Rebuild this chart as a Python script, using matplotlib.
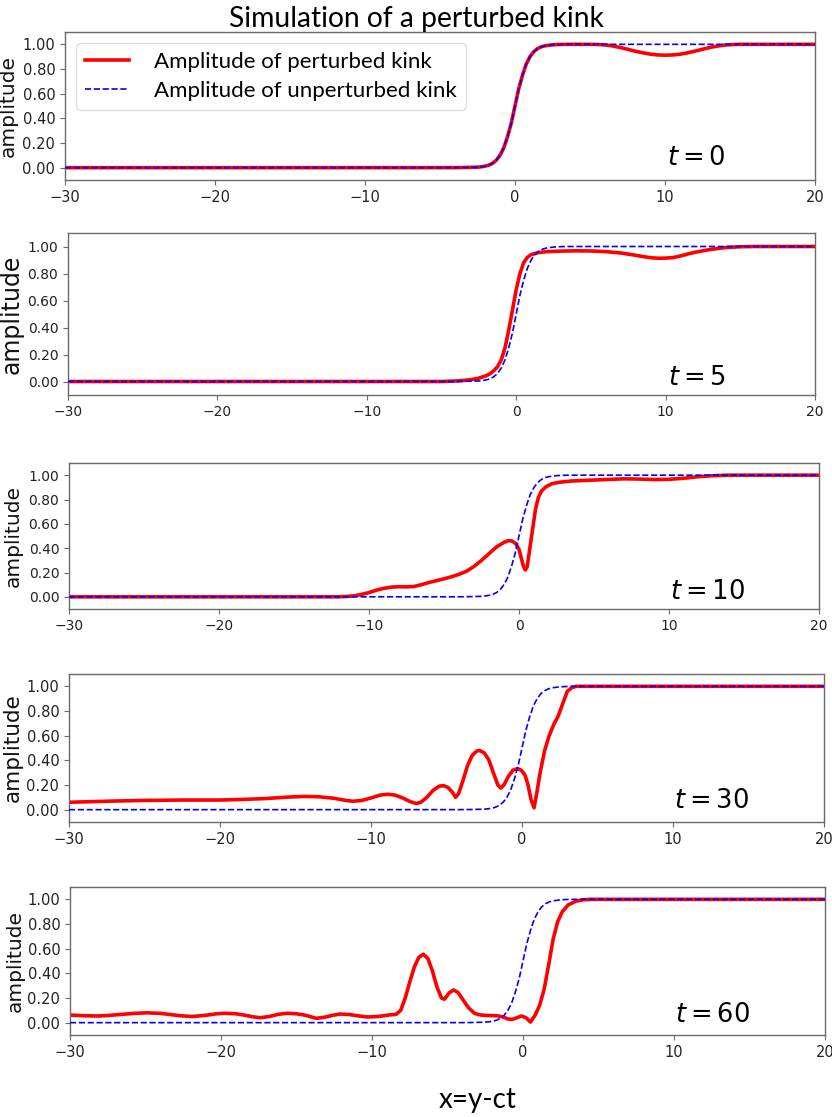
import matplotlib
matplotlib.use("Agg")
import matplotlib.pyplot as plt
from matplotlib.ticker import FormatStrFormatter

# ---------------- data ----------------
times = [0, 5, 10, 30, 60]

# unperturbed kink (same in every panel)
x_unpert = [-30, -4, -3.5, -3, -2.5, -2.25, -2, -1.75, -1.5, -1.25, -1, -0.75, -0.5, -0.25, 0, 0.25, 0.5, 0.75,
            1, 1.25, 1.5, 1.75, 2, 2.5, 3, 3.5, 4, 20]
y_unpert = [0.0, 0.0003, 0.001, 0.0025, 0.004, 0.007, 0.012, 0.02, 0.035, 0.06, 0.10, 0.16, 0.25, 0.36, 0.50,
            0.64, 0.75, 0.84, 0.90, 0.94, 0.965, 0.98, 0.988, 0.996, 0.999, 1.0, 1.0, 1.0]

# perturbed kink, t = 0
x_t0 = [-30, -4, -3.5, -3, -2.5, -2.25, -2, -1.75, -1.5, -1.25, -1, -0.75, -0.5, -0.25, 0, 0.25, 0.5, 0.75,
        1, 1.25, 1.5, 1.75, 2, 2.5, 3, 3.5, 4, 5, 5.5, 6, 6.5, 7, 7.5, 8, 8.5, 9, 9.5, 10, 10.5, 11, 11.5, 12,
        12.5, 13, 13.5, 14, 14.5, 15, 20]
y_t0 = [0.0, 0.0003, 0.001, 0.0025, 0.004, 0.007, 0.012, 0.02, 0.035, 0.06, 0.10, 0.16, 0.25, 0.36, 0.50,
        0.64, 0.75, 0.84, 0.90, 0.94, 0.965, 0.98, 0.988, 0.996, 0.999, 1.0, 1.0, 1.0, 0.999, 0.995, 0.987, 0.975,
        0.96, 0.945, 0.932, 0.921, 0.914, 0.912, 0.914, 0.92, 0.931, 0.945, 0.96, 0.975, 0.986, 0.994, 0.998,
        1.0, 1.0]

# perturbed kink, t = 5
x_t5 = [-30, -5, -4.5, -4, -3.5, -3, -2.5, -2, -1.75, -1.5, -1.25, -1, -0.75, -0.5, -0.25, 0, 0.25, 0.5, 0.75,
        1.0, 1.5, 2, 3, 4, 5, 6, 7, 8, 8.5, 9, 9.5, 10, 10.5, 11, 11.5, 12, 12.5, 13, 14, 15, 16, 20]
y_t5 = [0.0, 0.0, 0.002, 0.004, 0.008, 0.014, 0.025, 0.043, 0.058, 0.08, 0.11, 0.16, 0.25, 0.38, 0.53, 0.68,
        0.80, 0.88, 0.92, 0.94, 0.955, 0.962, 0.966, 0.968, 0.967, 0.962, 0.952, 0.935, 0.925, 0.917, 0.913,
        0.914, 0.918, 0.93, 0.945, 0.958, 0.968, 0.978, 0.992, 0.998, 1.0, 1.0]

# perturbed kink, t = 10
x_t10 = [-30, -12, -11.5, -11, -10.5, -10, -9.5, -9, -8.5, -8, -7.5, -7, -6.5, -6, -5.5, -5, -4.5, -4, -3.5,
         -3, -2.5, -2, -1.5, -1, -0.7, -0.45, -0.2, 0.0, 0.15, 0.3, 0.42, 0.55, 0.7, 0.9, 1.1, 1.3, 1.5, 1.8,
         2.2, 2.7, 3.5, 5, 7, 8, 9, 10, 11, 12, 13, 14, 20]
y_t10 = [0.0, 0.0, 0.003, 0.008, 0.02, 0.035, 0.055, 0.07, 0.08, 0.083, 0.082, 0.085, 0.1, 0.118, 0.133, 0.148,
         0.165, 0.185, 0.21, 0.25, 0.3, 0.355, 0.41, 0.448, 0.462, 0.458, 0.435, 0.39, 0.32, 0.25, 0.22, 0.25,
         0.38, 0.55, 0.72, 0.82, 0.87, 0.905, 0.93, 0.942, 0.952, 0.96, 0.97, 0.968, 0.964, 0.966, 0.975,
         0.988, 0.996, 1.0, 1.0]

# perturbed kink, t = 30
x_t30 = [-30, -28.5, -27, -25, -22.5, -20, -18.5, -17, -15.5, -14.5, -13.5, -12.5, -11.8, -11.2, -10.6, -10,
         -9.4, -8.9, -8.4, -7.9, -7.4, -7.0, -6.7, -6.3, -5.9, -5.5, -5.2, -4.9, -4.6, -4.4, -4.2, -3.9, -3.6,
         -3.3, -3.0, -2.8, -2.5, -2.2, -1.9, -1.6, -1.4, -1.2, -0.9, -0.6, -0.3, -0.05, 0.2, 0.4, 0.6, 0.8,
         1.0, 1.2, 1.5, 1.8, 2.1, 2.4, 2.7, 3.0, 3.3, 3.6, 20]
y_t30 = [0.06, 0.065, 0.07, 0.075, 0.078, 0.078, 0.083, 0.09, 0.102, 0.107, 0.105, 0.093, 0.078, 0.068, 0.075,
         0.095, 0.118, 0.125, 0.118, 0.095, 0.065, 0.05, 0.06, 0.1, 0.155, 0.19, 0.195, 0.18, 0.14, 0.1, 0.13,
         0.24, 0.36, 0.44, 0.475, 0.48, 0.46, 0.405, 0.3, 0.2, 0.175, 0.2, 0.27, 0.32, 0.333, 0.32, 0.28, 0.2,
         0.08, 0.015, 0.15, 0.3, 0.48, 0.6, 0.69, 0.76, 0.86, 0.96, 0.99, 1.0, 1.0]

# perturbed kink, t = 60
x_t60 = [-30, -29, -28.2, -27.5, -26.8, -25.8, -24.9, -24, -23.3, -22.6, -21.9, -21, -20.3, -19.8, -19, -18.4,
         -17.9, -17.4, -16.8, -16.2, -15.6, -15, -14.4, -13.7, -13.1, -12.6, -12.1, -11.5, -10.9, -10.3, -9.6,
         -8.9, -8.4, -8.1, -7.8, -7.5, -7.2, -6.9, -6.6, -6.3, -6.0, -5.7, -5.4, -5.2, -4.9, -4.6, -4.3, -4.0,
         -3.6, -3.2, -2.8, -2.3, -1.7, -1.3, -1.0, -0.7, -0.4, -0.1, 0.2, 0.5, 0.8, 1.1, 1.4, 1.7, 2.0, 2.3,
         2.6, 3.0, 3.5, 4.0, 4.5, 20]
y_t60 = [0.062, 0.056, 0.054, 0.058, 0.065, 0.075, 0.08, 0.075, 0.065, 0.055, 0.05, 0.06, 0.072, 0.076, 0.072,
         0.06, 0.048, 0.04, 0.05, 0.068, 0.076, 0.072, 0.06, 0.035, 0.045, 0.06, 0.07, 0.066, 0.055, 0.046, 0.05,
         0.062, 0.068, 0.1, 0.2, 0.33, 0.45, 0.53, 0.555, 0.52, 0.42, 0.29, 0.2, 0.19, 0.24, 0.265, 0.245, 0.19,
         0.12, 0.075, 0.062, 0.058, 0.056, 0.045, 0.03, 0.027, 0.04, 0.054, 0.04, 0.005, 0.06, 0.14, 0.27, 0.47,
         0.68, 0.82, 0.9, 0.955, 0.985, 0.997, 1.0, 1.0]

perturbed = [(x_t0, y_t0), (x_t5, y_t5), (x_t10, y_t10), (x_t30, y_t30), (x_t60, y_t60)]

x_ticks = [-30, -20, -10, 0, 10, 20]
y_ticks = [0.0, 0.2, 0.4, 0.6, 0.8, 1.0]

title = "Simulation of a perturbed kink"
legend_labels = ["Amplitude of perturbed kink", "Amplitude of unperturbed kink"]
ylabel = "amplitude"
xlabel = "x=y-ct"

# ---------------- layout ----------------
W, H = 832, 1117
fig = plt.figure(figsize=(W / 100, H / 100), dpi=100)

# pixel boxes: left, right, top, bottom
boxes = [(65, 815, 32, 180), (68, 815, 233, 395), (69, 819, 463, 609), (69, 824, 674, 822), (70, 825, 887, 1035)]
ylabel_sizes = [14.5, 17, 14.5, 15.5, 14.5]
ylabel_px = [18, 24, 23, 23, 25]
tick_sizes = [10.5, 10, 10, 10.5, 10.5]
t_pos = [(667, 165), (668, 385), (670, 599), (674, 808), (675, 1022)]

spine_col = "#6a6a6a"
for i, (l, r, t, b) in enumerate(boxes):
    ax = fig.add_axes([l / W, 1 - b / H, (r - l) / W, (b - t) / H])
    xs, ys = perturbed[i]
    ax.plot(xs, ys, color="red", lw=2.6, solid_joinstyle="round", label=legend_labels[0], zorder=2)
    ax.plot(x_unpert, y_unpert, color="blue", lw=1.2, ls="--", label=legend_labels[1], zorder=3)
    ax.set_xlim(-30, 20)
    ax.set_ylim(-0.1, 1.1)
    ax.set_xticks(x_ticks)
    ax.set_yticks(y_ticks)
    ax.yaxis.set_major_formatter(FormatStrFormatter("%.2f"))
    ax.tick_params(labelsize=tick_sizes[i], labelcolor="#222222", length=3.5, width=0.8, color=spine_col)
    for s in ax.spines.values():
        s.set_color(spine_col)
        s.set_linewidth(1.0)
    ax.set_ylabel(ylabel, fontsize=ylabel_sizes[i], color="#111111")
    ax.yaxis.set_label_coords((ylabel_px[i] - l) / (r - l), 0.5)
    tx, ty = t_pos[i]
    fig.text(tx / W, 1 - ty / H, r"$t = %d$" % times[i], fontsize=18.5, ha="left", va="baseline")
    if i == 0:
        ax.legend(loc="upper left", prop={"family": "Lato", "size": 16}, edgecolor="#dddddd",
                  framealpha=1.0, handlelength=2.0, handletextpad=1.1, labelspacing=0.4)

fig.text(416 / W, 1 - 27 / H, title, fontsize=20.3, family="Lato", ha="center", va="baseline")
fig.text(478 / W, 1 - 1108 / H, xlabel, fontsize=20, family="Lato", ha="center", va="baseline")

fig.savefig("out.png", dpi=100)
